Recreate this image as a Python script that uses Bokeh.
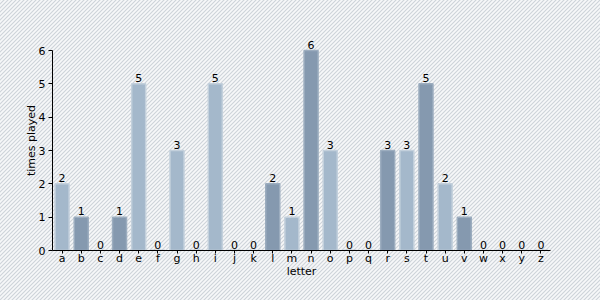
from bokeh.plotting import figure
from bokeh.models import ColumnDataSource, FactorRange, Range1d, FixedTicker
from bokeh.core.properties import value
from bokeh.embed import file_html
from bokeh.resources import INLINE

letters = list("abcdefghijklmnopqrstuvwxyz")
times_played = [2, 1, 0, 1, 5, 0, 3, 0, 5, 0, 0, 2, 1, 6, 3, 0, 0, 3, 3, 5, 2, 1, 0, 0, 0, 0]
y_ticks = [0, 1, 2, 3, 4, 5, 6]

light_fill, light_line = "#a4b8cb", "#c3d0dc"
dark_fill, dark_line = "#8599af", "#9cadbf"
fills = [light_fill if i % 2 == 0 else dark_fill for i in range(len(letters))]
lines = [light_line if i % 2 == 0 else dark_line for i in range(len(letters))]

src = ColumnDataSource(dict(letter=letters, val=times_played, fill=fills, line=lines,
                            lab=[str(v) for v in times_played]))

FONT = "DejaVu Sans"
p = figure(x_range=FactorRange(*letters, range_padding=0), y_range=Range1d(0, 6.6),
           frame_width=498, frame_height=220, min_border_left=52, min_border_right=50,
           min_border_top=30, min_border_bottom=50,
           output_backend="svg", toolbar_location=None)
p.border_fill_color = None
p.background_fill_color = None
p.outline_line_color = None
pattern = ("url(\"data:image/svg+xml;utf8,<svg xmlns='http://www.w3.org/2000/svg' width='4' height='4'>"
           "<rect width='4' height='4' fill='%23f7f8f9'/>"
           "<path d='M-1 5L5 -1M-1 1L1 -1M3 5L5 3' stroke='%23cdd3d9' stroke-width='1.1'/></svg>\")")
p.styles = {"background-color": "#f7f8f9", "background-image": pattern}

p.vbar(x="letter", top="val", width=0.73, source=src, fill_color="fill", line_color="line", line_width=1.5)
p.text(x="letter", y="val", text="lab", source=src, text_align="center", text_baseline="bottom",
       y_offset=-2, text_font=value(FONT), text_font_size="11px", text_color="#000000")

p.xgrid.visible = False
p.ygrid.visible = False

p.yaxis.ticker = FixedTicker(ticks=y_ticks)
p.yaxis.bounds = (0, 6)
p.yaxis.axis_label = "times played"
p.xaxis.axis_label = "letter"
for ax in (p.xaxis[0], p.yaxis[0]):
    ax.axis_label_text_font = FONT
    ax.axis_label_text_font_size = "11px"
    ax.axis_label_text_font_style = "normal"
    ax.axis_label_text_color = "#000000"
    ax.major_label_text_font = FONT
    ax.major_label_text_font_size = "11px"
    ax.major_label_text_color = "#000000"
    ax.axis_line_color = "#000000"
    ax.major_tick_line_color = "#000000"
    ax.major_tick_out = 4
    ax.major_tick_in = 0
    ax.minor_tick_line_color = None
p.xaxis.major_tick_out = 3
p.xaxis.major_label_standoff = -2
p.xaxis.axis_label_standoff = -3
p.yaxis.major_label_standoff = 3
p.yaxis.axis_label_standoff = -2

open("out.html", "w").write(file_html(p, INLINE))
